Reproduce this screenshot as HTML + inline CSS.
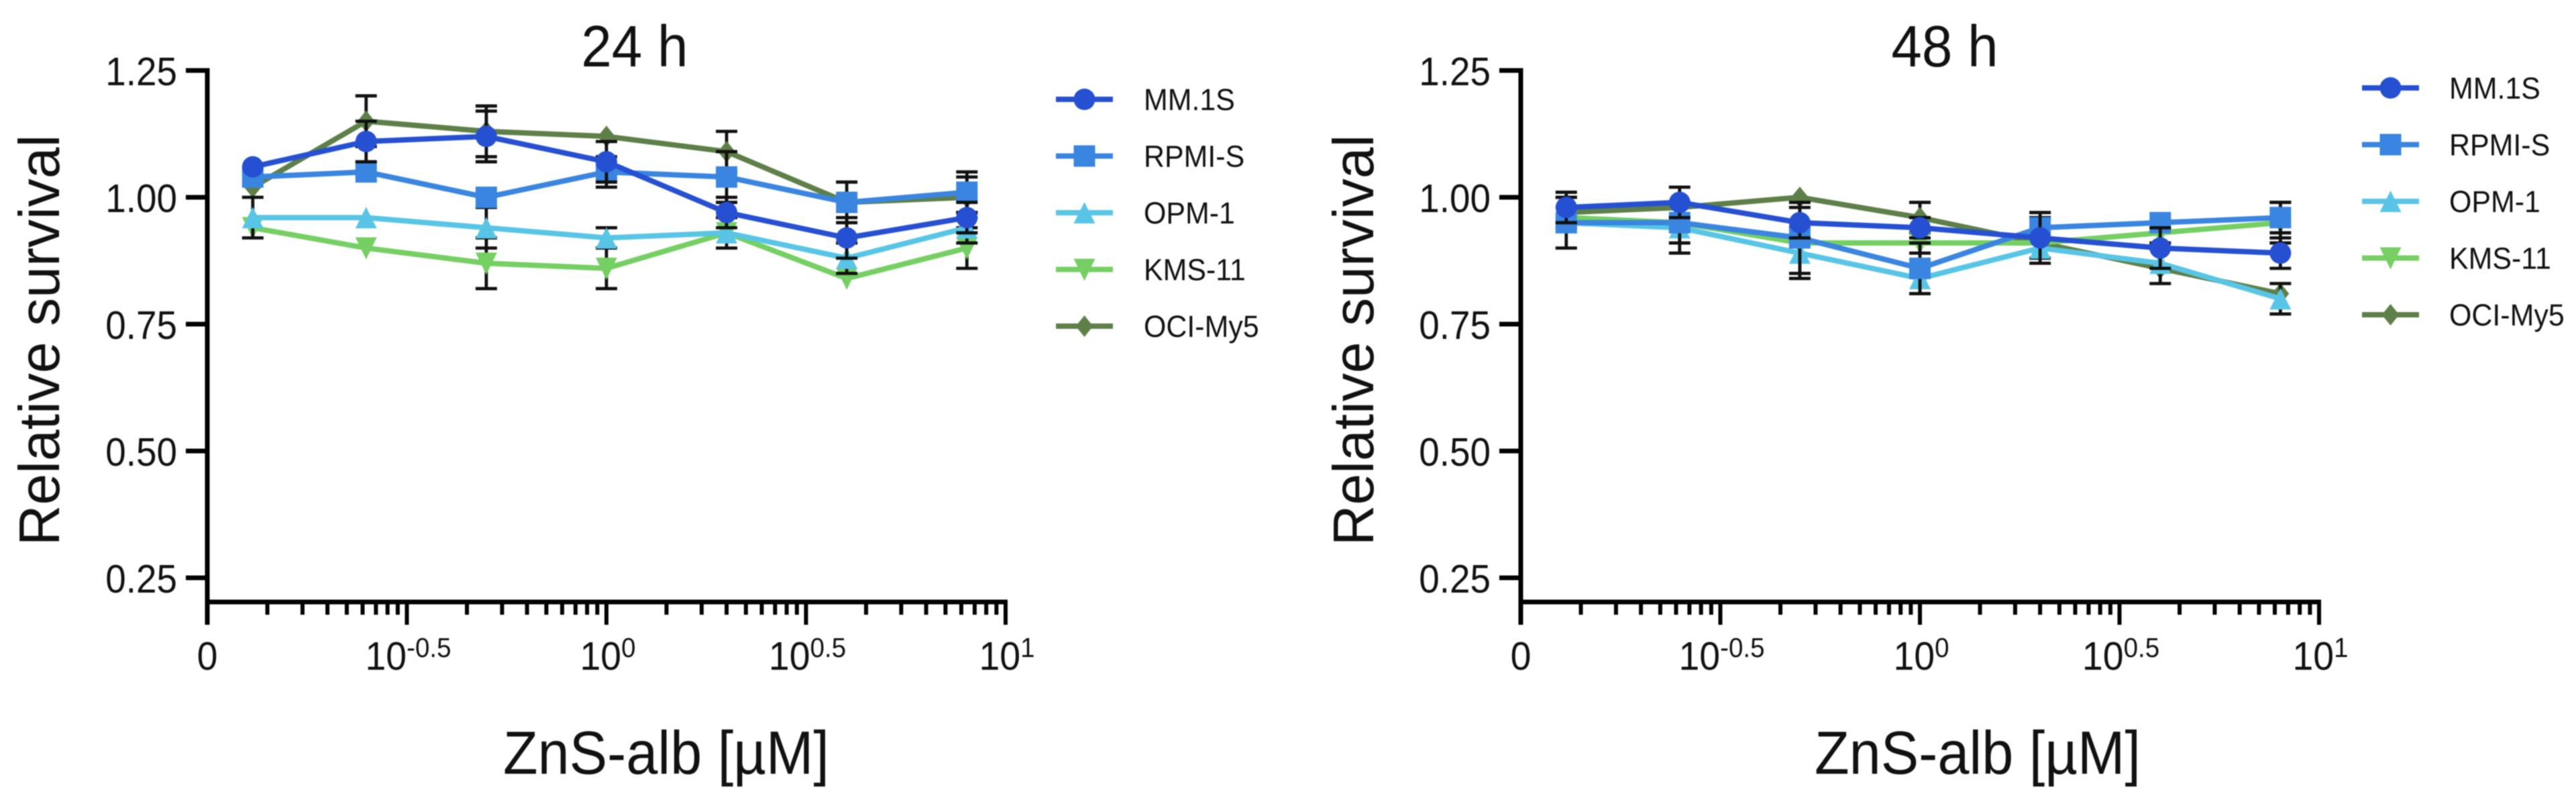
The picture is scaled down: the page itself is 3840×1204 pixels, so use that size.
<!DOCTYPE html>
<html lang="en">
<head>
<meta charset="utf-8">
<title>Relative survival vs ZnS-alb at 24 h and 48 h</title>
<style>
html,body{margin:0;padding:0;background:#fff;}
svg{display:block;font-family:"Liberation Sans",Arial,sans-serif;filter:blur(0.7px);}
text{fill:#111;}
</style>
</head>
<body>
<svg id="figure" xmlns="http://www.w3.org/2000/svg" width="3840" height="1204" viewBox="0 0 3840 1204">
  <rect x="0" y="0" width="3840" height="1204" fill="#ffffff"/>
  <text transform="translate(946,99) scale(0.94,1)" font-size="87" text-anchor="middle">24 h</text>
  <text transform="translate(2899,99) scale(0.94,1)" font-size="87" text-anchor="middle">48 h</text>
  <text transform="translate(88,507) rotate(-90) scale(0.99,1)" font-size="85" text-anchor="middle">Relative survival</text>
  <text transform="translate(2047,507) rotate(-90) scale(0.99,1)" font-size="85" text-anchor="middle">Relative survival</text>
  <text transform="translate(993,1153) scale(0.93,1)" font-size="91" text-anchor="middle">ZnS-alb [µM]</text>
  <text transform="translate(2948,1153) scale(0.93,1)" font-size="91" text-anchor="middle">ZnS-alb [µM]</text>
</svg>
<script>
// ---- chart data ----
const concentrations = [0.13, 0.25, 0.5, 1, 2, 4, 8];
const seriesNames = ["MM.1S", "RPMI-S", "OPM-1", "KMS-11", "OCI-My5"];
const seriesColors = ["#2650d2", "#3a85e0", "#58c5e6", "#75cf62", "#5e8048"];
const seriesMarkers = ["circle", "square", "triangle-up", "triangle-down", "diamond"];

const yTickValues = [0.25, 0.5, 0.75, 1, 1.25];
const yTickLabels = ["0.25", "0.50", "0.75", "1.00", "1.25"];
const xMajorExponents = [-1, -0.5, 0, 0.5, 1];
const xTickBases = ["0", "10", "10", "10", "10"];
const xTickSups = ["", "-0.5", "0", "0.5", "1"];

const mm24 = [1.06, 1.11, 1.12, 1.07, 0.97, 0.92, 0.96];
const rpmi24 = [1.04, 1.05, 1.00, 1.05, 1.04, 0.99, 1.01];
const opm24 = [0.96, 0.96, 0.94, 0.92, 0.93, 0.88, 0.94];
const kms24 = [0.94, 0.90, 0.87, 0.86, 0.93, 0.84, 0.90];
const oci24 = [1.02, 1.15, 1.13, 1.12, 1.09, 0.99, 1.00];

const mmErr24 = [0, 0.04, 0.05, 0.04, 0.03, 0.04, 0.03];
const rpmiErr24 = [0, 0, 0, 0.03, 0.05, 0.04, 0.04];
const opmErr24 = [0.04, 0, 0.04, 0.02, 0.03, 0.03, 0.03];
const kmsErr24 = [0, 0, 0.05, 0.04, 0, 0, 0.04];
const ociErr24 = [0, 0.05, 0.05, 0, 0.04, 0, 0.04];

const mm48 = [0.98, 0.99, 0.95, 0.94, 0.92, 0.90, 0.89];
const rpmi48 = [0.95, 0.95, 0.92, 0.86, 0.94, 0.95, 0.96];
const opm48 = [0.95, 0.94, 0.89, 0.84, 0.90, 0.87, 0.80];
const kms48 = [0.96, 0.95, 0.91, 0.91, 0.91, 0.93, 0.95];
const oci48 = [0.97, 0.98, 1.00, 0.96, 0.91, 0.86, 0.81];

const mmErr48 = [0.03, 0.03, 0.03, 0.02, 0.05, 0.04, 0.03];
const rpmiErr48 = [0, 0.04, 0.07, 0.05, 0.02, 0, 0.03];
const opmErr48 = [0.05, 0.05, 0.05, 0.03, 0.02, 0.04, 0.03];
const kmsErr48 = [0, 0, 0, 0.02, 0, 0, 0.04];
const ociErr48 = [0.03, 0, 0, 0.03, 0, 0, 0];

const values24 = [mm24, rpmi24, opm24, kms24, oci24];
const errors24 = [mmErr24, rpmiErr24, opmErr24, kmsErr24, ociErr24];
const values48 = [mm48, rpmi48, opm48, kms48, oci48];
const errors48 = [mmErr48, rpmiErr48, opmErr48, kmsErr48, ociErr48];

// ---- drawing ----
const SVGNS = "http://www.w3.org/2000/svg";
const figure = document.getElementById("figure");

function mk(parent, tag, attrs) {
  const el = document.createElementNS(SVGNS, tag);
  for (const key in attrs) el.setAttribute(key, attrs[key]);
  parent.appendChild(el);
  return el;
}

const DECADE = 595;
const Y_UNIT = 756;
const Y_ONE = 294;
const X_AXIS_Y = 897;
const MARK = 16;

function xScale(x0, c) {
  return x0 + (Math.log10(c) + 1) * DECADE;
}
function xScaleExp(x0, e) {
  return x0 + (e + 1) * DECADE;
}
function yScale(v) {
  return Y_ONE - (v - 1) * Y_UNIT;
}

function drawMarker(parent, kind, cx, cy, color) {
  let el;
  if (kind === "circle") {
    el = mk(parent, "circle", {cx: cx, cy: cy, r: MARK, fill: color});
  } else if (kind === "square") {
    el = mk(parent, "rect", {x: cx - MARK, y: cy - MARK, width: 2 * MARK, height: 2 * MARK, fill: color});
  } else if (kind === "triangle-up") {
    el = mk(parent, "polygon", {points: `${cx},${cy - MARK} ${cx + MARK},${cy + MARK} ${cx - MARK},${cy + MARK}`, fill: color});
  } else if (kind === "triangle-down") {
    el = mk(parent, "polygon", {points: `${cx},${cy + MARK + 1} ${cx + MARK},${cy - MARK} ${cx - MARK},${cy - MARK}`, fill: color});
  } else {
    el = mk(parent, "polygon", {points: `${cx},${cy - MARK} ${cx + MARK - 3},${cy} ${cx},${cy + MARK} ${cx - MARK + 3},${cy}`, fill: color});
  }
  
  
  return el;
}

function drawAxes(panel, x0) {
  const axes = mk(panel, "g", {});
  
  

  const yLine = mk(axes, "line", {x1: x0, x2: x0, y1: yScale(1.25) - 3.5, y2: 931, stroke: "#000", "stroke-width": 7});
  
  

  const xLine = mk(axes, "line", {x1: x0, x2: xScaleExp(x0, 1) + 3, y1: X_AXIS_Y, y2: X_AXIS_Y, stroke: "#000", "stroke-width": 7});
  
  

  yTickValues.forEach(function (v, i) {
    const tick = mk(axes, "line", {x1: x0 - 32, x2: x0, y1: yScale(v), y2: yScale(v), stroke: "#000", "stroke-width": 7});
    
    
    const label = mk(axes, "text", {transform: `translate(${x0 - 45},${yScale(v) + 22}) scale(0.93,1)`, "font-size": 59, "text-anchor": "end"});
    label.textContent = yTickLabels[i];
    
    
  });

  xMajorExponents.forEach(function (e, i) {
    const px = xScaleExp(x0, e);
    const tick = mk(axes, "line", {x1: px, x2: px, y1: X_AXIS_Y, y2: 931, stroke: "#000", "stroke-width": 6});
    
    

    const label = mk(axes, "text", {transform: `translate(${px + (i === 0 ? 0 : 2)},998) scale(0.94,1)`, "font-size": 59, "text-anchor": "middle"});
    
    
    const base = mk(label, "tspan", {});
    base.textContent = xTickBases[i];
    if (xTickSups[i]) {
      const sup = mk(label, "tspan", {dy: -19, "font-size": 41});
      sup.textContent = xTickSups[i];
    }

    if (i < xMajorExponents.length - 1) {
      for (let n = 2; n <= 9; n++) {
        const mx = xScaleExp(x0, e + 0.5 * Math.log10(n));
        const minor = mk(axes, "line", {x1: mx, x2: mx, y1: X_AXIS_Y, y2: 916, stroke: "#000", "stroke-width": 6});
        
        
      }
    }
  });
}

function drawSeries(panel, x0, index, values, errors) {
  const color = seriesColors[index];
  const group = mk(panel, "g", {});
  
  

  concentrations.forEach(function (c, i) {
    if (!errors[i]) return;
    const px = xScale(x0, c);
    const top = yScale(values[i] + errors[i]);
    const bottom = yScale(values[i] - errors[i]);
    const bar = mk(group, "path", {
      d: `M${px - 16} ${top}H${px + 16}M${px} ${top}V${bottom}M${px - 16} ${bottom}H${px + 16}`,
      stroke: "#111", "stroke-width": 4.8, fill: "none"
    });
    
    
  });

  const pts = concentrations.map(function (c, i) {
    return xScale(x0, c) + "," + yScale(values[i]);
  }).join(" ");
  const line = mk(group, "polyline", {points: pts, fill: "none", stroke: color, "stroke-width": 8, "stroke-linejoin": "miter"});
  
  

  concentrations.forEach(function (c, i) {
    drawMarker(group, seriesMarkers[index], xScale(x0, c), yScale(values[i]), color);
  });
}

function drawLegend(panel, lineStart, textX, firstY) {
  const legend = mk(panel, "g", {});
  
  
  seriesNames.forEach(function (name, i) {
    const y = firstY + i * 84.5;
    const entry = mk(legend, "g", {});
    
    
    const swatch = mk(entry, "line", {x1: lineStart, x2: lineStart + 85, y1: y, y2: y, stroke: seriesColors[i], "stroke-width": 8});
    
    
    drawMarker(entry, seriesMarkers[i], lineStart + 42.5, y, seriesColors[i]);
    const label = mk(entry, "text", {transform: `translate(${textX},${y + 16}) scale(0.954,1)`, "font-size": 45});
    label.textContent = name;
    
    
  });
}

function drawPanel(name, x0, values, errors, lineStart, textX, legendY) {
  const panel = mk(figure, "g", {});
  
  
  drawAxes(panel, x0);
  for (let s = seriesNames.length - 1; s >= 0; s--) {
    drawSeries(panel, x0, s, values[s], errors[s]);
  }
  drawLegend(panel, lineStart, textX, legendY);
}

drawPanel("chart-24h", 309, values24, errors24, 1574, 1705, 148);
drawPanel("chart-48h", 2267, values48, errors48, 3521, 3651, 131);
</script>
</body>
</html>
